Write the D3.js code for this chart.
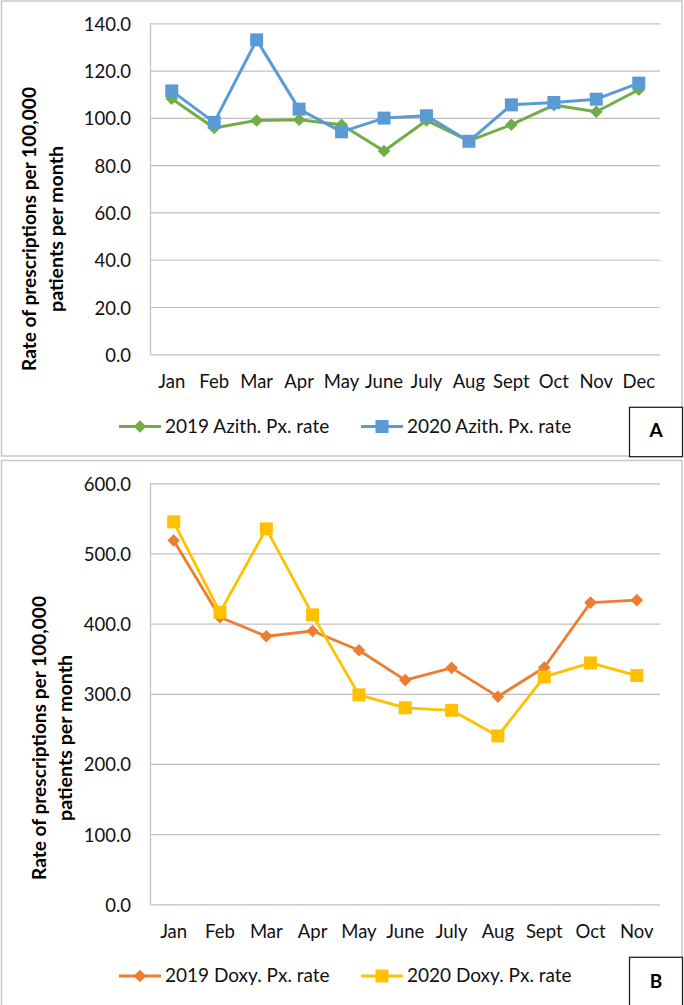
<!DOCTYPE html>
<html>
<head>
<meta charset="utf-8">
<script src="https://cdn.jsdelivr.net/npm/d3@7"></script>
<style>
  html, body { margin: 0; padding: 0; background: #fff; }
  svg { display: block; }
  text { font-family: Lato, "Open Sans", sans-serif; }
</style>
</head>
<body>
<svg id="chart" width="684" height="1005"></svg>
<script>
// ---------- data ----------
const monthsA = ["Jan","Feb","Mar","Apr","May","June","July","Aug","Sept","Oct","Nov","Dec"];
const azith2019 = [108.1, 95.7, 98.9, 99.2, 97.1, 86.0, 98.9, 90.3, 97.1, 105.4, 102.6, 111.9];
const azith2020 = [111.4, 98.1, 133.0, 103.7, 94.1, 99.9, 100.9, 90.1, 105.5, 106.5, 107.9, 114.7];
const ticksA = [0, 20, 40, 60, 80, 100, 120, 140];

const monthsB = ["Jan","Feb","Mar","Apr","May","June","July","Aug","Sept","Oct","Nov"];
const doxy2019 = [518.5, 409, 382, 389.5, 362, 319.5, 337, 296, 337.5, 430, 433.5];
const doxy2020 = [545, 416, 535, 412.5, 298.5, 280, 276.5, 240, 324, 344, 326];
const ticksB = [0, 100, 200, 300, 400, 500, 600];

const yTitle1 = "Rate of prescriptions per 100,000";
const yTitle2 = "patients per month";

const seriesA = [
  {name: "2019 Azith. Px. rate", values: azith2019, color: "#70AD47", shape: "diamond"},
  {name: "2020 Azith. Px. rate", values: azith2020, color: "#5B9BD5", shape: "square"}
];
const seriesB = [
  {name: "2019 Doxy. Px. rate", values: doxy2019, color: "#ED7D31", shape: "diamond"},
  {name: "2020 Doxy. Px. rate", values: doxy2020, color: "#FFC000", shape: "square"}
];

// ---------- drawing ----------
const svg = d3.select("#chart");
const GRID = "#bfbfbf";

function marker(g, shape, cx, cy, color) {
  if (shape === "square") {
    g.append("rect").attr("x", cx - 6.5).attr("y", cy - 6.5)
      .attr("width", 13).attr("height", 13).attr("fill", color);
  } else {
    const r = 6.3;
    g.append("path")
      .attr("d", `M${cx},${cy - r}L${cx + r},${cy}L${cx},${cy + r}L${cx - r},${cy}Z`)
      .attr("fill", color);
  }
}

function drawPanel(cfg) {
  const g = svg.append("g");
  g.append("rect").attr("x", cfg.box[0]).attr("y", cfg.box[1])
    .attr("width", cfg.box[2]).attr("height", cfg.box[3])
    .attr("fill", "none").attr("stroke", "#c8c8c8").attr("stroke-width", 1.5);

  const x = d3.scaleBand().domain(cfg.categories).range([cfg.left, cfg.right]);
  const y = d3.scaleLinear().domain([0, d3.max(cfg.ticks)]).range([cfg.bottom, cfg.top]);

  const ya = g.append("g").attr("transform", `translate(${cfg.left},0)`)
    .call(d3.axisLeft(y).tickValues(cfg.ticks).tickFormat(d3.format(".1f"))
      .tickSizeInner(-(cfg.right - cfg.left)).tickSizeOuter(0).tickPadding(19.5));
  ya.select(".domain").remove();
  ya.selectAll(".tick line").attr("stroke", GRID).attr("stroke-width", 1.2);
  ya.selectAll(".tick text").attr("font-size", 18.5).attr("fill", "#111")
    .attr("dy", "0.38em").style("font-family", "Lato, sans-serif");
  g.append("line").attr("x1", cfg.left).attr("x2", cfg.left)
    .attr("y1", cfg.top).attr("y2", cfg.bottom).attr("stroke", GRID).attr("stroke-width", 1.2);

  const xa = g.append("g").attr("transform", `translate(0,${cfg.bottom})`)
    .call(d3.axisBottom(x).tickSize(0).tickPadding(21));
  xa.select(".domain").remove();
  xa.selectAll(".tick text").attr("font-size", 18.5).attr("fill", "#111")
    .style("font-family", "Lato, sans-serif");

  const t = g.append("g");
  [[yTitle1, cfg.title1X, 284], [yTitle2, cfg.title2X, 166]].forEach(([s, bx, len]) => {
    t.append("text")
      .attr("transform", `translate(${bx},${cfg.titleCY}) rotate(-90)`)
      .attr("text-anchor", "middle")
      .attr("font-size", 18.5).attr("font-weight", "bold").attr("fill", "#000")
      .attr("textLength", len).attr("lengthAdjust", "spacingAndGlyphs")
      .text(s);
  });

  const cx = d => x(d) + x.bandwidth() / 2;
  cfg.series.forEach(s => {
    const line = d3.line().x((v, i) => cx(cfg.categories[i])).y(v => y(v));
    g.append("path").attr("d", line(s.values)).attr("fill", "none")
      .attr("stroke", s.color).attr("stroke-width", cfg.lineW)
      .attr("stroke-linejoin", "round");
    const mg = g.append("g");
    s.values.forEach((v, i) => marker(mg, s.shape, cx(cfg.categories[i]), y(v), s.color));
  });

  cfg.series.forEach((s, i) => {
    const lx = cfg.legendX[i];
    g.append("line").attr("x1", lx).attr("x2", lx + 42)
      .attr("y1", cfg.legendY).attr("y2", cfg.legendY)
      .attr("stroke", s.color).attr("stroke-width", cfg.lineW);
    marker(g, s.shape, lx + 21, cfg.legendY, s.color);
    g.append("text").attr("x", lx + 46).attr("y", cfg.legendY + 6)
      .attr("font-size", 19).attr("fill", "#111").text(s.name);
  });

  g.append("rect").attr("x", cfg.labelBox[0]).attr("y", cfg.labelBox[1])
    .attr("width", cfg.labelBox[2]).attr("height", cfg.labelBox[3])
    .attr("fill", "#fff").attr("stroke", "#222").attr("stroke-width", 1.3);
  g.append("text").attr("x", cfg.labelBox[0] + cfg.labelBox[2] / 2)
    .attr("y", cfg.labelBaseline).attr("text-anchor", "middle")
    .attr("font-size", 19).attr("font-weight", "bold").attr("fill", "#000")
    .text(cfg.label);
}

drawPanel({
  box: [1.5, 1, 680.5, 455], categories: monthsA, ticks: ticksA, series: seriesA,
  left: 150.5, right: 660, top: 23.3, bottom: 354.3,
  title1X: 36, title2X: 63, titleCY: 229, lineW: 3,
  legendX: [119, 361], legendY: 426.5,
  labelBox: [629.5, 407.3, 53, 49.4], labelBaseline: 437, label: "A"
});

drawPanel({
  box: [1.5, 460.5, 680.5, 550], categories: monthsB, ticks: ticksB, series: seriesB,
  left: 150.5, right: 660, top: 483.3, bottom: 904.3,
  title1X: 46, title2X: 72, titleCY: 738, lineW: 2.8,
  legendX: [119, 361], legendY: 976,
  labelBox: [629.5, 957.3, 53, 55], labelBaseline: 987.5, label: "B"
});
</script>
</body>
</html>
